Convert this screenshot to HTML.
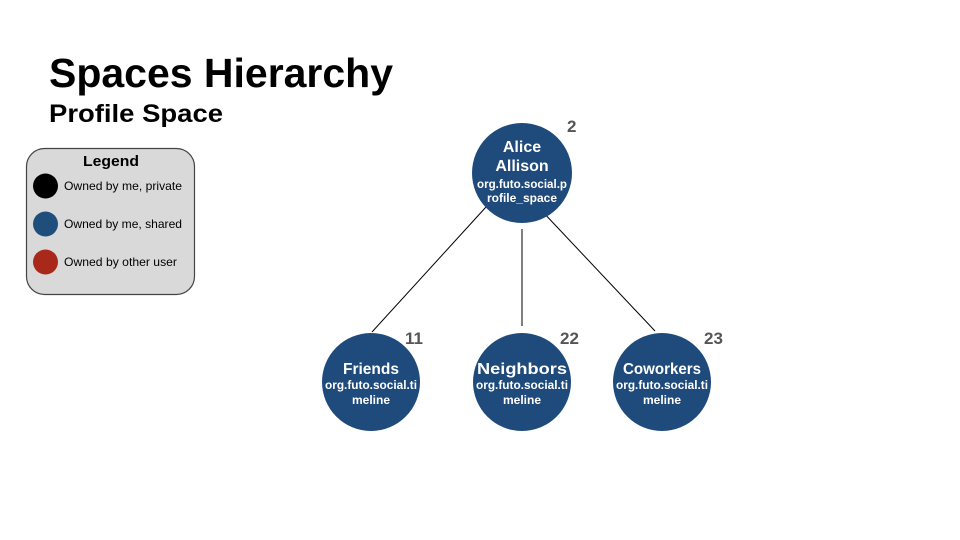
<!DOCTYPE html>
<html><head><style>
body{margin:0;background:#fff;}
svg{display:block;font-family:"Liberation Sans",Arial,sans-serif;}
</style></head><body>
<svg width="960" height="540" viewBox="0 0 960 540">
<text x="49" y="87" font-size="41" font-weight="bold" fill="#000" textLength="344" lengthAdjust="spacingAndGlyphs">Spaces Hierarchy</text>
<text x="49" y="122" font-size="25" font-weight="bold" fill="#000" textLength="174" lengthAdjust="spacingAndGlyphs">Profile Space</text>
<rect x="26.5" y="148.5" width="168" height="146" rx="18" fill="#d9d9d9" stroke="#444" stroke-width="1.2"/>
<text x="111" y="166" font-size="15" text-anchor="middle" fill="#000" font-weight="bold" textLength="56" lengthAdjust="spacingAndGlyphs">Legend</text>
<circle cx="45.5" cy="186" r="12.5" fill="#000"/>
<circle cx="45.5" cy="224" r="12.5" fill="#1f4e7d"/>
<circle cx="45.5" cy="262" r="12.5" fill="#a8291a"/>
<g font-size="12" fill="#000">
<text x="64" y="190" textLength="118" lengthAdjust="spacingAndGlyphs">Owned by me, private</text>
<text x="64" y="228" textLength="118" lengthAdjust="spacingAndGlyphs">Owned by me, shared</text>
<text x="64" y="266" textLength="113" lengthAdjust="spacingAndGlyphs">Owned by other user</text>
</g>
<g stroke="#000" stroke-width="1">
<line x1="486" y1="207" x2="372" y2="332"/>
<line x1="522" y1="229" x2="522" y2="326"/>
<line x1="541" y1="210" x2="655" y2="331"/>
</g>
<g fill="#1f4b7c">
<circle cx="522" cy="173" r="50"/>
<circle cx="371" cy="382" r="49"/>
<circle cx="522" cy="382" r="49"/>
<circle cx="662" cy="382" r="49"/>
</g>
<g fill="#fff" font-weight="bold" text-anchor="middle">
<text x="522" y="152" font-size="16">Alice</text>
<text x="522" y="171" font-size="16">Allison</text>
<text x="522" y="188" font-size="12" textLength="90" lengthAdjust="spacingAndGlyphs">org.futo.social.p</text>
<text x="522" y="202" font-size="12">rofile_space</text>
<text x="371" y="374" font-size="16" textLength="56" lengthAdjust="spacingAndGlyphs">Friends</text>
<text x="371" y="389" font-size="12" textLength="92" lengthAdjust="spacingAndGlyphs">org.futo.social.ti</text>
<text x="371" y="404" font-size="12">meline</text>
<text x="522" y="374" font-size="16" textLength="90" lengthAdjust="spacingAndGlyphs">Neighbors</text>
<text x="522" y="389" font-size="12" textLength="92" lengthAdjust="spacingAndGlyphs">org.futo.social.ti</text>
<text x="522" y="404" font-size="12">meline</text>
<text x="662" y="374" font-size="16" textLength="78" lengthAdjust="spacingAndGlyphs">Coworkers</text>
<text x="662" y="389" font-size="12" textLength="92" lengthAdjust="spacingAndGlyphs">org.futo.social.ti</text>
<text x="662" y="404" font-size="12">meline</text>
</g>
<g fill="#555" font-weight="bold" font-size="17">
<text x="567" y="132">2</text>
<text x="405" y="344">11</text>
<text x="560" y="344">22</text>
<text x="704" y="344">23</text>
</g>
</svg>
</body></html>
